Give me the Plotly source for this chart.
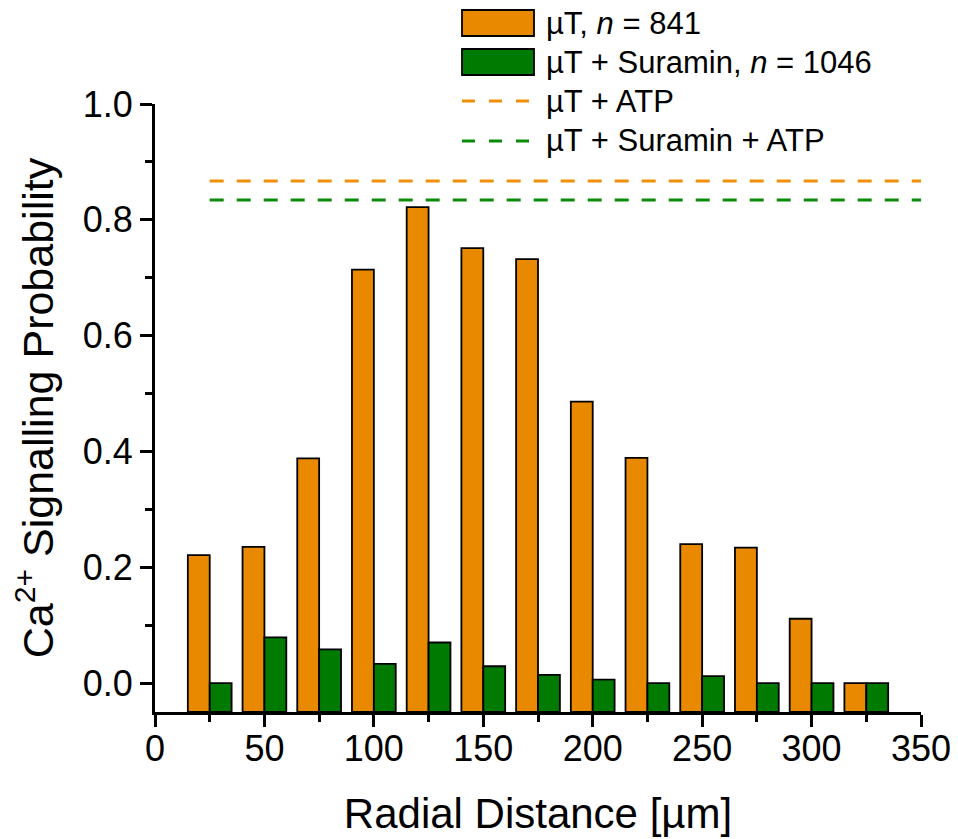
import plotly.graph_objects as go

# ---- data ----
radial_distance = [25, 50, 75, 100, 125, 150, 175, 200, 225, 250, 275, 300, 325]
prob_uT = [0.221, 0.235, 0.388, 0.714, 0.822, 0.751, 0.732, 0.486, 0.389, 0.240, 0.234, 0.111, 0.0]
prob_uT_suramin = [0.0, 0.079, 0.058, 0.033, 0.070, 0.029, 0.014, 0.006, 0.0, 0.012, 0.0, 0.0, 0.0]
atp_x = [25, 350]
atp_uT = [0.867, 0.867]
atp_uT_suramin = [0.834, 0.834]
x_ticks = [0, 50, 100, 150, 200, 250, 300, 350]
y_ticks = [0.0, 0.2, 0.4, 0.6, 0.8, 1.0]
legend_labels = ["µT, <i>n</i> = 841", "µT + Suramin, <i>n</i> = 1046",
                 "µT + ATP", "µT + Suramin + ATP"]

Y_MIN, Y_MAX = -0.05, 1.0
X_MIN, X_MAX = 0, 350
BAR_W = 10

ORANGE = "#E88900"
GREEN = "#007A00"
ORANGE_LINE = "#F0900A"
GREEN_LINE = "#0A8C0A"
FONT = "Liberation Sans, Arial, sans-serif"

W, H = 958, 839
ML, MR, MT, MB = 155, 37, 104, 127
PW, PH = W - ML - MR, H - MT - MB


def px_x(p):  # pixel -> paper x
    return (p - ML) / PW


def px_y(p):  # pixel -> paper y
    return (H - MB - p) / PH


fig = go.Figure()

fig.add_trace(go.Bar(
    x=radial_distance,
    y=[v - Y_MIN for v in prob_uT],
    base=Y_MIN,
    width=BAR_W,
    offset=-BAR_W,
    marker=dict(color=ORANGE, line=dict(color="black", width=1.8)),
    name=legend_labels[0],
    customdata=prob_uT,
    hovertemplate="%{x}: %{customdata}<extra></extra>",
    showlegend=False,
))
fig.add_trace(go.Bar(
    x=radial_distance,
    y=[v - Y_MIN for v in prob_uT_suramin],
    base=Y_MIN,
    width=BAR_W,
    offset=0,
    marker=dict(color=GREEN, line=dict(color="black", width=1.8)),
    name=legend_labels[1],
    customdata=prob_uT_suramin,
    hovertemplate="%{x}: %{customdata}<extra></extra>",
    showlegend=False,
))
fig.add_trace(go.Scatter(
    x=atp_x, y=atp_uT, mode="lines",
    line=dict(color=ORANGE_LINE, width=3, dash="14px,13px"),
    name=legend_labels[2], showlegend=False,
))
fig.add_trace(go.Scatter(
    x=atp_x, y=atp_uT_suramin, mode="lines",
    line=dict(color=GREEN_LINE, width=3, dash="14px,13px"),
    name=legend_labels[3], showlegend=False,
))

# ---- legend (drawn as decoration, in paper coordinates) ----
shapes = []
annotations = []
row_centers = [23, 62, 101, 141]
swatch_l, swatch_r = 462, 534
for i, (lab, yc) in enumerate(zip(legend_labels, row_centers)):
    if i < 2:
        fill = [ORANGE, GREEN][i]
        shapes.append(dict(type="rect", xref="paper", yref="paper",
                           x0=px_x(swatch_l), x1=px_x(swatch_r),
                           y0=px_y(yc + 13), y1=px_y(yc - 13),
                           fillcolor=fill, line=dict(color="black", width=1.8)))
    else:
        col = [ORANGE_LINE, GREEN_LINE][i - 2]
        shapes.append(dict(type="line", xref="paper", yref="paper",
                           x0=px_x(swatch_l), x1=px_x(529),
                           y0=px_y(yc), y1=px_y(yc),
                           line=dict(color=col, width=3, dash="13px,14px")))
    annotations.append(dict(text=lab, xref="paper", yref="paper",
                            x=px_x(544), y=px_y(yc), xanchor="left", yanchor="middle",
                            showarrow=False, font=dict(size=31, family=FONT, color="black")))

fig.update_layout(
    width=W, height=H,
    margin=dict(l=ML, r=MR, t=MT, b=MB, autoexpand=False),
    paper_bgcolor="white", plot_bgcolor="white",
    font=dict(family=FONT, color="black"),
    barmode="overlay",
    showlegend=False,
    shapes=shapes,
    annotations=annotations,
)

fig.update_xaxes(
    range=[X_MIN, X_MAX],
    tickvals=x_ticks,
    ticks="outside", ticklen=12, tickwidth=2.5, tickcolor="black",
    minor=dict(dtick=25, tick0=0, ticks="outside", ticklen=7, tickwidth=2.5, tickcolor="black"),
    showline=True, linewidth=2.8, linecolor="black",
    showgrid=False, zeroline=False,
    tickfont=dict(size=36, family=FONT),
    ticklabelstandoff=-9,
    title=dict(text="Radial Distance [µm]", font=dict(size=42, family=FONT), standoff=31),
)
fig.update_yaxes(
    range=[Y_MIN, Y_MAX],
    tickvals=y_ticks,
    tickformat=".1f",
    ticks="outside", ticklen=12, tickwidth=2.5, tickcolor="black",
    minor=dict(dtick=0.1, tick0=0, ticks="outside", ticklen=7, tickwidth=2.5, tickcolor="black"),
    showline=True, linewidth=2.8, linecolor="black",
    showgrid=False, zeroline=False,
    tickfont=dict(size=36, family=FONT),
    title=dict(text="Ca<sup>2+</sup> Signalling Probability", font=dict(size=43, family=FONT), standoff=16),
)

fig.write_html("out.html")
